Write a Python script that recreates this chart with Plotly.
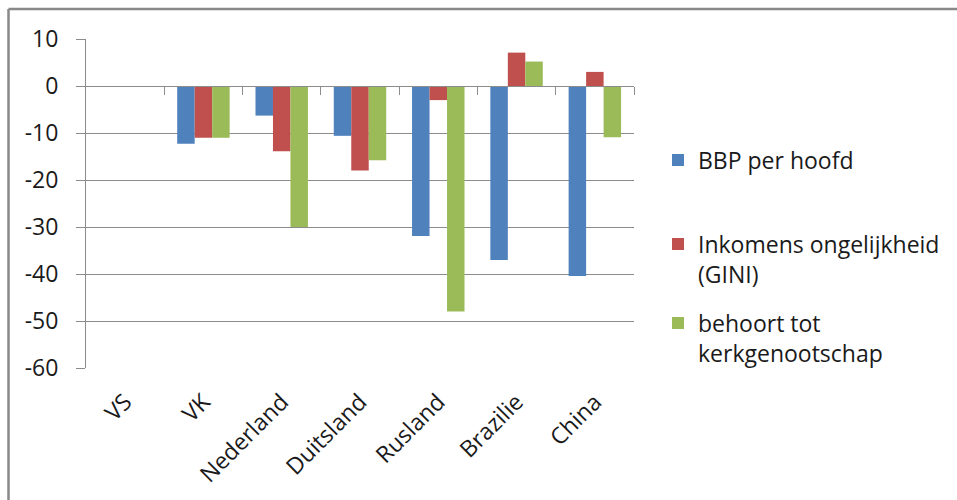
import plotly.graph_objects as go

categories = ["VS", "VK", "Nederland", "Duitsland", "Rusland", "Brazilie", "China"]
bbp = [0, -12.3, -6.3, -10.6, -31.9, -37.0, -40.4]
gini = [0, -11.0, -13.9, -18.0, -3.0, 7.1, 3.0]
kerk = [0, -11.0, -30.0, -15.8, -48.0, 5.2, -10.9]
series_names = ["BBP per hoofd", "Inkomens ongelijkheid<br>(GINI)", "behoort tot<br>kerkgenootschap"]
colors = ["#4F81BD", "#C0504D", "#9BBB59"]
y_ticks = [10, 0, -10, -20, -30, -40, -50, -60]
y_tick_labels = ["10", "0", "-10", "-20", "-30", "-40", "-50", "-60"]

FONT = "Open Sans"
TXT = "#1a1a1a"
GRID = "#8c8c8c"

fig = go.Figure()
legends = ["legend", "legend2", "legend3"]
for vals, name, col, lg in zip([bbp, gini, kerk], series_names, colors, legends):
    fig.add_trace(go.Bar(x=categories, y=vals, name=name, marker_color=col,
                         marker_line_width=0, legend=lg))

L, R, T, B = 86, 634, 39, 368
W, H = 957, 500
pw, ph = R - L, B - T

def px2x(px):
    return (px - L) / pw

def py2y(py):
    return (B - py) / ph

leg_common = dict(font=dict(family=FONT, size=23, color=TXT), bgcolor="rgba(0,0,0,0)",
                  xanchor="left", yanchor="middle", valign="top", itemwidth=30)
lx = px2x(658)
fig.update_layout(
    width=W, height=H,
    margin=dict(l=L, r=W - R, t=T, b=H - B, pad=0),
    paper_bgcolor="white", plot_bgcolor="white",
    barmode="group", bargap=0.33, bargroupgap=0,
    font=dict(family=FONT, size=23, color=TXT),
    legend=dict(x=lx, y=py2y(160), **leg_common),
    legend2=dict(x=lx, y=py2y(259), **leg_common),
    legend3=dict(x=lx, y=py2y(338), **leg_common),
    xaxis=dict(type="category", tickangle=-45, showgrid=False, showline=False,
               ticks="", tickfont=dict(family=FONT, size=23, color=TXT),
               ticklabelstandoff=15, zeroline=False),
    xaxis2=dict(overlaying="x", anchor="free", position=py2y(86), range=[-0.5, 6.5],
                tickmode="array", tickvals=[0.5, 1.5, 2.5, 3.5, 4.5, 5.5, 6.5],
                showticklabels=False, ticks="outside", ticklen=8, tickcolor=GRID,
                showline=True, linecolor=GRID, linewidth=1, showgrid=False,
                zeroline=False, side="bottom"),
    yaxis=dict(range=[-60, 10], tickmode="array", tickvals=y_ticks, ticktext=y_tick_labels,
               showgrid=True, gridcolor=GRID,
               gridwidth=1, zeroline=False, showline=True, linecolor=GRID, linewidth=1,
               ticks="outside", ticklen=9, tickcolor=GRID,
               tickfont=dict(family=FONT, size=23, color=TXT), ticklabelstandoff=13),
)

# add a hidden trace so xaxis2 is drawn
fig.add_trace(go.Scatter(x=[None], y=[None], xaxis="x2", showlegend=False, hoverinfo="skip"))

# outer chart border (top and left visible in the frame)
bx = px2x(8.5)
by = py2y(9)
fig.add_shape(type="line", xref="paper", yref="paper", x0=bx, x1=px2x(1000), y0=by, y1=by,
              line=dict(color="#898989", width=2.5))
fig.add_shape(type="line", xref="paper", yref="paper", x0=bx, x1=bx, y0=by, y1=py2y(560),
              line=dict(color="#898989", width=2.5))

fig.write_html("out.html")
